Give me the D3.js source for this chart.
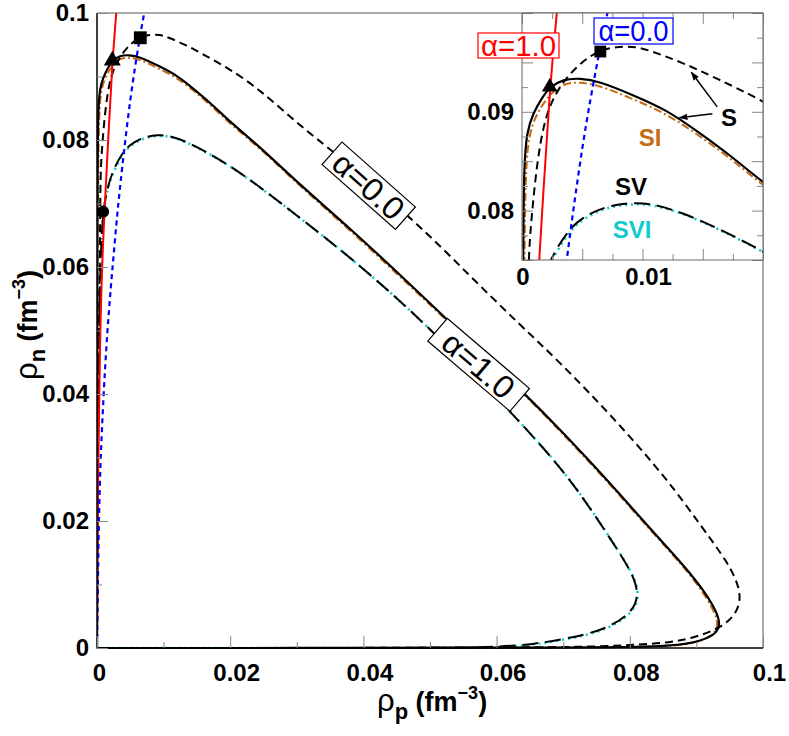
<!DOCTYPE html>
<html>
<head>
<meta charset="utf-8">
<script src="https://cdn.jsdelivr.net/npm/d3@7"></script>
<style>
  body { margin: 0; background: #fff; }
  text { font-family: "Liberation Sans", Arial, sans-serif; }
</style>
</head>
<body>
<svg id="chart" width="789" height="736"></svg>
<script>
// spinodal / instability borders, [rho_p, rho_n] in fm^-3
const sAlpha1 = [[0,0],[0,0.03],[0.00005,0.05],[0.00005,0.065],[0.0001,0.075],[0.00015,0.0844],[0.0004,0.088],[0.0009,0.0898],
  [0.0017,0.0915],[0.0023,0.0925],[0.0034,0.0933],[0.0048,0.0934],[0.0064,0.0931],[0.0092,0.0917],[0.012,0.0902],[0.0147,0.0879],
  [0.0175,0.0854],[0.0199,0.0829],[0.0245,0.0789],[0.0305,0.0729],[0.038,0.0661],[0.0471,0.0572],[0.0526,0.0517],[0.0647,0.0396],
  [0.0696,0.0343],[0.0766,0.0265],[0.0832,0.0186],[0.0892,0.0118],[0.0928,0.0065],[0.0937,0.0036],[0.0928,0.002],[0.0897,0.0008],
  [0.0857,0.0002],[0.07,0.00005],[0.04,0],[0,0]];
const sAlpha0 = [[0,0],[0.00005,0.02],[0.0002,0.04],[0.00035,0.055],[0.00045,0.0632],[0.0005,0.075],[0.0008,0.0794],[0.0012,0.0844],
  [0.0018,0.0889],[0.0026,0.0915],[0.0037,0.0935],[0.005,0.0951],[0.0064,0.0962],[0.0078,0.0966],[0.0095,0.0966],[0.0106,0.0962],
  [0.0133,0.095],[0.0161,0.0934],[0.0199,0.0912],[0.0245,0.0879],[0.0305,0.0822],[0.0355,0.0782],[0.0481,0.0669],[0.0556,0.059],
  [0.0632,0.0512],[0.0696,0.0449],[0.0776,0.0362],[0.0857,0.0265],[0.0907,0.0192],[0.0948,0.0134],[0.0967,0.0091],[0.0964,0.006],
  [0.0942,0.0034],[0.0897,0.0016],[0.0857,0.0008],[0.0806,0.0005],[0.0756,0.0002],[0.06,0.00005],[0.03,0],[0,0]];
const sI = [[0,0],[0,0.03],[0.00005,0.05],[0.00008,0.065],[0.0002,0.075],[0.0003,0.0844],[0.0006,0.0877],[0.0011,0.0895],
  [0.0019,0.0911],[0.0026,0.0921],[0.0036,0.0929],[0.0048,0.093],[0.0064,0.0927],[0.0092,0.0913],[0.012,0.0898],[0.0147,0.0876],
  [0.0175,0.0851],[0.0199,0.0826],[0.0245,0.0787],[0.0305,0.0727],[0.038,0.0658],[0.0471,0.0569],[0.0526,0.0515],[0.0647,0.0394],
  [0.0696,0.0341],[0.0766,0.0263],[0.0832,0.0184],[0.0892,0.0116],[0.0926,0.0062],[0.0934,0.0035],[0.0924,0.0018],[0.0895,0.0007],
  [0.0857,0.0002],[0.07,0.00005],[0.04,0],[0,0]];
const sV = [[0,0],[0.00005,0.02],[0.0002,0.04],[0.0004,0.055],[0.0006,0.063],[0.0009,0.0687],[0.0015,0.0722],[0.0023,0.075],
  [0.0038,0.078],[0.005,0.0793],[0.007,0.0805],[0.0092,0.0808],[0.0108,0.0807],[0.0133,0.0798],[0.0161,0.0783],[0.0199,0.076],
  [0.0245,0.0726],[0.0305,0.0677],[0.038,0.0616],[0.0505,0.0501],[0.0656,0.0333],[0.0711,0.0265],[0.0756,0.0196],[0.0792,0.0138],
  [0.0808,0.0107],[0.0813,0.0081],[0.0803,0.0055],[0.0762,0.0028],[0.0706,0.0015],[0.0656,0.0006],[0.0606,0.0002],[0.053,0],
  [0.03,0],[0,0]];
const sVI = [[0,0],[0.00005,0.02],[0.0002,0.04],[0.0004,0.055],[0.0006,0.063],[0.0009,0.0686],[0.0015,0.0721],[0.0024,0.0749],
  [0.0039,0.0779],[0.0051,0.0792],[0.0071,0.0804],[0.0093,0.0807],[0.0109,0.0806],[0.0134,0.0797],[0.0162,0.0782],[0.02,0.0759],
  [0.0246,0.0725],[0.0306,0.0676],[0.0381,0.0615],[0.0506,0.05],[0.0657,0.0332],[0.0712,0.0264],[0.0757,0.0195],[0.0793,0.0137],
  [0.0809,0.0106],[0.0814,0.008],[0.0804,0.0054],[0.0763,0.0027],[0.0707,0.0014],[0.0657,0.0005],[0.0606,0.0001],[0.053,0],
  [0.03,0],[0,0]];
const betaLine1 = [[0,0],[0.0001,0.0244],[0.00045,0.0496],[0.00085,0.0632],[0.00143,0.075],[0.0023,0.0925],[0.0029,0.1],[0.0031,0.103]];
const betaLine0 = [[0,0],[0.0003,0.0233],[0.0007,0.0339],[0.00146,0.0496],[0.0027,0.0643],[0.0031,0.069],[0.0037,0.075],
  [0.005,0.0868],[0.0064,0.0961],[0.0071,0.1],[0.0074,0.102]];
const markers = [
  { type: "circle", x: 0.0009, y: 0.0687 },
  { type: "triangle", x: 0.0023, y: 0.0925 },
  { type: "square", x: 0.0065, y: 0.0961 }
];
const mainTicks = [0, 0.02, 0.04, 0.06, 0.08, 0.1];
const mainMinor = [0.01, 0.03, 0.05, 0.07, 0.09];
const insetXTicks = [0, 0.01];
const insetYTicks = [0.08, 0.09];

const svg = d3.select("#chart");

const xMain = d3.scaleLinear().domain([0, 0.1]).range([97, 763]);
const yMain = d3.scaleLinear().domain([0, 0.1]).range([648, 13]);
const xIns = d3.scaleLinear().domain([0, 0.02]).range([522, 763]);
const yIns = d3.scaleLinear().domain([0.075, 0.1]).range([260, 13]);

const styles = [
  { data: sVI, stroke: "#11cccc", width: 2.6, dash: "2,4" },
  { data: sV, stroke: "#000", width: 2, dash: "16,7" },
  { data: sI, stroke: "#c86a10", width: 2, dash: "8,3,2,3" },
  { data: sAlpha1, stroke: "#000", width: 2.2, dash: null },
  { data: sAlpha0, stroke: "#000", width: 2, dash: "8,5" },
  { data: betaLine1, stroke: "#ff0000", width: 2, dash: null },
  { data: betaLine0, stroke: "#0000ff", width: 2.2, dash: "5,4" }
];

const defs = svg.append("defs");
defs.append("clipPath").attr("id", "clipMain").append("rect")
  .attr("x", 97).attr("y", 13).attr("width", 666).attr("height", 636);
defs.append("clipPath").attr("id", "clipIns").append("rect")
  .attr("x", 522).attr("y", 13).attr("width", 241).attr("height", 247);
defs.append("marker").attr("id", "arrow").attr("viewBox", "0 0 10 10")
  .attr("refX", 9).attr("refY", 5).attr("markerWidth", 9).attr("markerHeight", 9)
  .attr("orient", "auto").attr("markerUnits", "userSpaceOnUse")
  .append("path").attr("d", "M0,1.5 L10,5 L0,8.5 Z").attr("fill", "#000");

const symbolFor = { circle: d3.symbolCircle, triangle: d3.symbolTriangle, square: d3.symbolSquare };
const sizeFor = { circle: 120, triangle: 125, square: 165 };

function drawPanel(g, x, y, clipId, scaleMark) {
  const line = d3.line().x(d => x(d[0])).y(d => y(d[1])).curve(d3.curveBasis);
  const curves = g.append("g").attr("clip-path", `url(#${clipId})`);
  styles.forEach(s => {
    curves.append("path")
      .attr("d", line(s.data))
      .attr("fill", "none")
      .attr("stroke", s.stroke)
      .attr("stroke-width", s.width)
      .attr("stroke-dasharray", s.dash)
      .attr("stroke-linejoin", "round");
  });
  curves.selectAll("path.mark")
    .data(markers)
    .enter().append("path")
    .attr("class", "mark")
    .attr("transform", d => `translate(${x(d.x)},${y(d.y)})`)
    .attr("d", d => d3.symbol().type(symbolFor[d.type]).size(sizeFor[d.type] * scaleMark)())
    .attr("fill", "#000");
}

// main panel
const main = svg.append("g");
drawPanel(main, xMain, yMain, "clipMain", 1);

main.append("path")
  .attr("d", "M97,13 H763 V648")
  .attr("fill", "none").attr("stroke", "#555").attr("stroke-width", 1);
main.append("path")
  .attr("d", "M97,13 V648 H763")
  .attr("fill", "none").attr("stroke", "#000").attr("stroke-width", 1.5);

const fmt = d => d === 0 ? "0" : d3.format("~g")(d);

const xAxis = main.append("g").attr("transform", "translate(0,648)")
  .call(d3.axisBottom(xMain).tickValues(mainTicks).tickSize(-12).tickPadding(16).tickFormat(fmt));
main.append("g").attr("transform", "translate(0,648)")
  .call(d3.axisBottom(xMain).tickValues(mainMinor).tickSize(-6).tickFormat(""));
const yAxis = main.append("g").attr("transform", "translate(97,0)")
  .call(d3.axisLeft(yMain).tickValues(mainTicks).tickSize(-11).tickPadding(8).tickFormat(fmt));
main.append("g").attr("transform", "translate(97,0)")
  .call(d3.axisLeft(yMain).tickValues(mainMinor).tickSize(-5).tickFormat(""));

main.selectAll(".domain").remove();
main.selectAll(".tick line").attr("stroke", "#888");
main.selectAll(".tick text")
  .attr("font-size", 24).attr("font-weight", "bold").attr("fill", "#000")
  .attr("font-family", "Liberation Sans, Arial, sans-serif");
xAxis.selectAll(".tick text").attr("dx", d => d === 0 ? 2 : 6);

// boxed alpha labels along the curves
const boxLabels = [
  { text: "α=0.0", x: 0.0408, y: 0.0728, angle: 41.5, w: 98, h: 30 },
  { text: "α=1.0", x: 0.0573, y: 0.0446, angle: 40.5, w: 108, h: 30 }
];
boxLabels.forEach(b => {
  const g = main.append("g")
    .attr("transform", `translate(${xMain(b.x)},${yMain(b.y)}) rotate(${b.angle})`);
  g.append("rect")
    .attr("x", -b.w / 2).attr("y", -b.h / 2).attr("width", b.w).attr("height", b.h)
    .attr("fill", "#fff").attr("stroke", "#000").attr("stroke-width", 1.2);
  g.append("text")
    .attr("text-anchor", "middle").attr("dy", "0.36em")
    .attr("font-family", "Liberation Serif, Times New Roman, serif")
    .attr("font-size", 32)
    .attr("textLength", 84).attr("lengthAdjust", "spacingAndGlyphs")
    .text(b.text);
});

// axis titles
const xTitle = svg.append("text").attr("x", 377).attr("y", 711).attr("fill", "#000");
xTitle.append("tspan").attr("font-size", 31).text("ρ");
xTitle.append("tspan").attr("font-size", 22).attr("font-weight", "bold").attr("dy", 8).text("p");
xTitle.append("tspan").attr("font-size", 27).attr("font-weight", "bold").attr("dy", -8).text(" (fm");
xTitle.append("tspan").attr("font-size", 18).attr("font-weight", "bold").attr("dy", -12).text("−3");
xTitle.append("tspan").attr("font-size", 27).attr("font-weight", "bold").attr("dy", 12).text(")");

const yTitle = svg.append("text").attr("transform", "translate(37,380) rotate(-90)").attr("fill", "#000");
yTitle.append("tspan").attr("font-size", 31).text("ρ");
yTitle.append("tspan").attr("font-size", 22).attr("font-weight", "bold").attr("dy", 8).text("n");
yTitle.append("tspan").attr("font-size", 27).attr("font-weight", "bold").attr("dy", -8).text(" (fm");
yTitle.append("tspan").attr("font-size", 18).attr("font-weight", "bold").attr("dy", -12).text("−3");
yTitle.append("tspan").attr("font-size", 27).attr("font-weight", "bold").attr("dy", 12).text(")");

// inset
const inset = svg.append("g");
inset.append("rect").attr("x", 522).attr("y", 13).attr("width", 241).attr("height", 247).attr("fill", "#fff");
drawPanel(inset, xIns, yIns, "clipIns", 0.85);

const insX = d3.range(0, 0.02001, 0.0025);
const insY = d3.range(0.075, 0.10001, 0.0025);
const isMajor = (v, step) => Math.abs(v / step - Math.round(v / step)) < 1e-6;

inset.append("g").attr("transform", "translate(0,260)")
  .call(d3.axisBottom(xIns).tickValues(insX).tickSize(0).tickFormat(""))
  .selectAll(".tick line").attr("y2", d => isMajor(d, 0.005) ? -11 : -6);
inset.append("g").attr("transform", "translate(0,13)")
  .call(d3.axisTop(xIns).tickValues(insX).tickSize(0).tickFormat(""))
  .selectAll(".tick line").attr("y2", d => isMajor(d, 0.005) ? 11 : 6);
inset.append("g").attr("transform", "translate(522,0)")
  .call(d3.axisLeft(yIns).tickValues(insY).tickSize(0).tickFormat(""))
  .selectAll(".tick line").attr("x2", d => isMajor(d, 0.005) ? 11 : 6);
inset.append("g").attr("transform", "translate(763,0)")
  .call(d3.axisRight(yIns).tickValues(insY).tickSize(0).tickFormat(""))
  .selectAll(".tick line").attr("x2", d => isMajor(d, 0.005) ? -11 : -6);
inset.selectAll(".domain").remove();
inset.selectAll(".tick line").attr("stroke", "#888");

inset.append("rect").attr("x", 522).attr("y", 13).attr("width", 241).attr("height", 247)
  .attr("fill", "none").attr("stroke", "#666").attr("stroke-width", 1);

inset.selectAll("text.xl")
  .data(insetXTicks)
  .enter().append("text")
  .attr("class", "xl")
  .attr("x", d => xIns(d) + (d === 0 ? 1 : 6)).attr("y", 285)
  .attr("text-anchor", "middle")
  .attr("font-size", 24).attr("font-weight", "bold")
  .text(fmt);
inset.selectAll("text.yl")
  .data(insetYTicks)
  .enter().append("text")
  .attr("class", "yl")
  .attr("x", 514).attr("y", d => yIns(d)).attr("dy", "0.35em")
  .attr("text-anchor", "end")
  .attr("font-size", 24).attr("font-weight", "bold")
  .text(fmt);

// inset legend boxes
const insetBoxes = [
  { text: "α=1.0", color: "#ff0000", x0: 478, y0: 33, w: 81, h: 25, len: 75 },
  { text: "α=0.0", color: "#0000ff", x0: 594, y0: 18, w: 79, h: 26, len: 70 }
];
insetBoxes.forEach(b => {
  svg.append("rect")
    .attr("x", b.x0).attr("y", b.y0).attr("width", b.w).attr("height", b.h)
    .attr("fill", "#fff").attr("stroke", b.color).attr("stroke-width", 1.2);
  svg.append("text")
    .attr("x", b.x0 + b.w / 2).attr("y", b.y0 + b.h / 2).attr("dy", "0.36em")
    .attr("text-anchor", "middle").attr("fill", b.color)
    .attr("font-family", "Liberation Serif, Times New Roman, serif")
    .attr("font-size", 29)
    .attr("textLength", b.len).attr("lengthAdjust", "spacingAndGlyphs")
    .text(b.text);
});

// curve names in inset
const curveNames = [
  { text: "S", color: "#000", x: 729, y: 117 },
  { text: "SI", color: "#c86a10", x: 650, y: 137 },
  { text: "SV", color: "#000", x: 631, y: 186 },
  { text: "SVI", color: "#11cccc", x: 632, y: 229 }
];
svg.selectAll("text.cn")
  .data(curveNames)
  .enter().append("text")
  .attr("class", "cn")
  .attr("x", d => d.x).attr("y", d => d.y).attr("dy", "0.36em")
  .attr("text-anchor", "middle")
  .attr("font-size", 24).attr("font-weight", "bold")
  .attr("fill", d => d.color)
  .text(d => d.text);

const arrows = [
  { from: [0.0162, 0.0905], to: [0.01405, 0.0940] },
  { from: [0.0158, 0.0898], to: [0.01306, 0.0894] }
];
arrows.forEach(a => {
  svg.append("line")
    .attr("x1", xIns(a.from[0])).attr("y1", yIns(a.from[1]))
    .attr("x2", xIns(a.to[0])).attr("y2", yIns(a.to[1]))
    .attr("stroke", "#000").attr("stroke-width", 1.5)
    .attr("marker-end", "url(#arrow)");
});
</script>
</body>
</html>
